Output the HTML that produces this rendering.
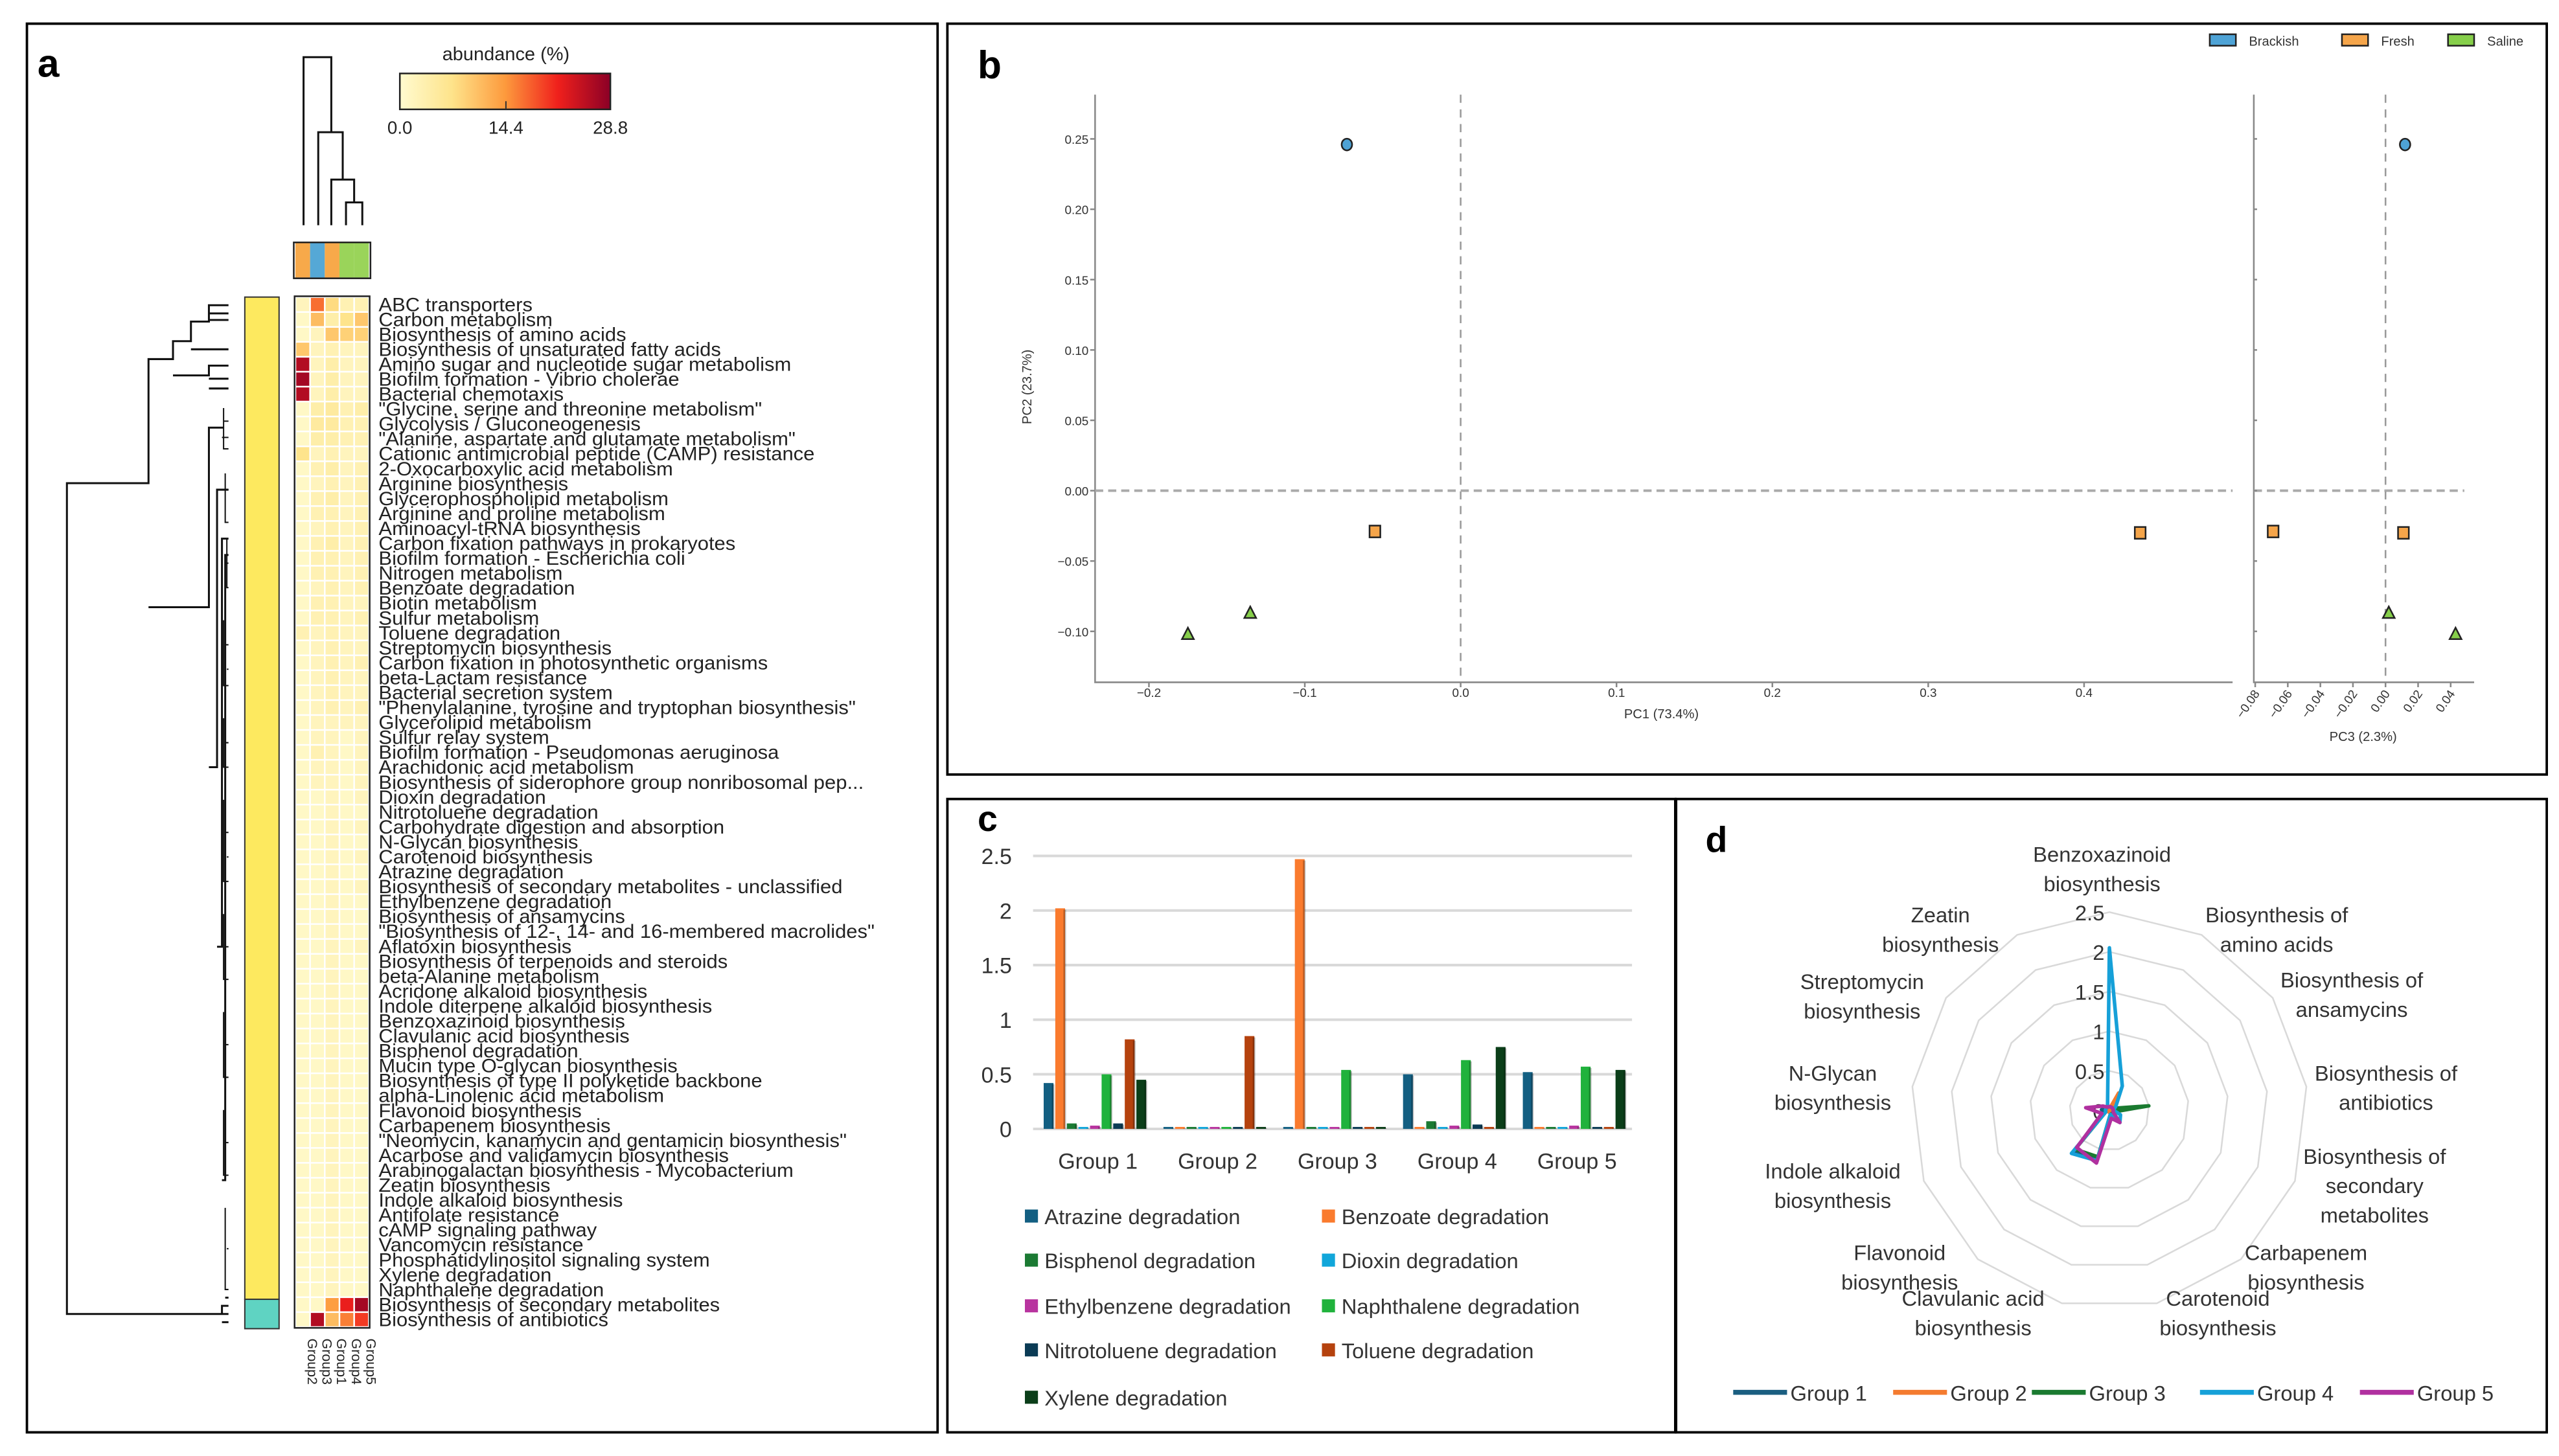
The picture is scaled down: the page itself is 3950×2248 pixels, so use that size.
<!DOCTYPE html>
<html><head><meta charset="utf-8"><style>
html,body{margin:0;padding:0;background:#fff;}
svg{display:block;}
text{font-family:"Liberation Sans",sans-serif;}
</style></head><body>
<svg id="fig" width="3950" height="2248" viewBox="0 0 1568 892" preserveAspectRatio="none" xmlns="http://www.w3.org/2000/svg">
<rect x="0" y="0" width="1568" height="892" fill="#fff"/>
<rect x="16.5" y="14.5" width="558" height="863" fill="none" stroke="#000" stroke-width="1.5"/>
<rect x="580.5" y="14.5" width="980" height="460" fill="none" stroke="#000" stroke-width="1.5"/>
<rect x="580.5" y="489.5" width="446" height="388" fill="none" stroke="#000" stroke-width="1.5"/>
<rect x="1027" y="489.5" width="533.5" height="388" fill="none" stroke="#000" stroke-width="1.5"/>
<text x="23" y="47" font-size="24" font-weight="bold">a</text>
<text x="599" y="48" font-size="24" font-weight="bold">b</text>
<text x="599" y="509" font-size="22" font-weight="bold">c</text>
<text x="1045" y="522" font-size="22" font-weight="bold">d</text>

<g id="pa">
<defs><linearGradient id="cb" x1="0" x2="1" y1="0" y2="0">
<stop offset="0" stop-color="#fffbd0"/><stop offset="0.25" stop-color="#fee38a"/><stop offset="0.5" stop-color="#fd9a3d"/><stop offset="0.75" stop-color="#f0201c"/><stop offset="1" stop-color="#8b0026"/></linearGradient></defs>
<text x="310" y="37" font-size="11.5" text-anchor="middle" fill="#222">abundance (%)</text>
<rect x="245" y="45" width="129" height="22" fill="url(#cb)" stroke="#222" stroke-width="1"/>
<line x1="310" y1="62" x2="310" y2="67" stroke="#333" stroke-width="0.8"/>
<text x="245" y="82" font-size="11" text-anchor="middle" fill="#222">0.0</text>
<text x="310" y="82" font-size="11" text-anchor="middle" fill="#222">14.4</text>
<text x="374" y="82" font-size="11" text-anchor="middle" fill="#222">28.8</text>
<path d="M186,138V35H203V81 M195,138V81H210V110 M203,138V110H217V124 M212,138V124H222V138" fill="none" stroke="#111" stroke-width="1.2"/>
<path d="M140,805H136V800H140M136,810H140M136,805H41V296H91V220H106V209H117V197H128V187H140M128,192H140M128,196H140M117,214H140M106,230H128V224H140M128,232H140M128,238H140M91,372H128V262H137M128,470H133V300H140M133,580H136V330H140M136,723H138V340H140M138,795H140" fill="none" stroke="#111" stroke-width="1.2"/>
<g stroke="#111" stroke-width="0.8" fill="none">
<path d="M137,250V275H140M137,258H140M136,268H140M138,290V320H140M137,300H140M139,330V360H140M138,345H140M137,380V420H140M138,395H140M139,410H140M137,440V470H140M138,455H140M137,490V540H140M138,510H140M139,525H140M137,560V600H140M138,580H140M137,620V660H140M138,640H140M137,680V720H140M138,700H140M138,740V790H140M139,765H140"/>
</g>
<rect x="150" y="182" width="21" height="614" fill="#fde95f" stroke="#333" stroke-width="0.8"/>
<rect x="150" y="796" width="21" height="18" fill="#5fd3c2" stroke="#333" stroke-width="0.8"/>
<g id="groupbar"></g>
<g id="heat"></g>
<g id="rowlabels" transform="translate(232,0) scale(1.06,1) translate(-232,0)"></g>
<g id="collabels"></g>
</g>

<g id="pb"></g>
<g id="pc"></g>
<g id="pd"></g>
</svg>
<script>
const heatRows = ["ABC transporters","Carbon metabolism","Biosynthesis of amino acids","Biosynthesis of unsaturated fatty acids","Amino sugar and nucleotide sugar metabolism","Biofilm formation - Vibrio cholerae","Bacterial chemotaxis","\"Glycine, serine and threonine metabolism\"","Glycolysis / Gluconeogenesis","\"Alanine, aspartate and glutamate metabolism\"","Cationic antimicrobial peptide (CAMP) resistance","2-Oxocarboxylic acid metabolism","Arginine biosynthesis","Glycerophospholipid metabolism","Arginine and proline metabolism","Aminoacyl-tRNA biosynthesis","Carbon fixation pathways in prokaryotes","Biofilm formation - Escherichia coli","Nitrogen metabolism","Benzoate degradation","Biotin metabolism","Sulfur metabolism","Toluene degradation","Streptomycin biosynthesis","Carbon fixation in photosynthetic organisms","beta-Lactam resistance","Bacterial secretion system","\"Phenylalanine, tyrosine and tryptophan biosynthesis\"","Glycerolipid metabolism","Sulfur relay system","Biofilm formation - Pseudomonas aeruginosa","Arachidonic acid metabolism","Biosynthesis of siderophore group nonribosomal pep...","Dioxin degradation","Nitrotoluene degradation","Carbohydrate digestion and absorption","N-Glycan biosynthesis","Carotenoid biosynthesis","Atrazine degradation","Biosynthesis of secondary metabolites - unclassified","Ethylbenzene degradation","Biosynthesis of ansamycins","\"Biosynthesis of 12-, 14- and 16-membered macrolides\"","Aflatoxin biosynthesis","Biosynthesis of terpenoids and steroids","beta-Alanine metabolism","Acridone alkaloid biosynthesis","Indole diterpene alkaloid biosynthesis","Benzoxazinoid biosynthesis","Clavulanic acid biosynthesis","Bisphenol degradation","Mucin type O-glycan biosynthesis","Biosynthesis of type II polyketide backbone","alpha-Linolenic acid metabolism","Flavonoid biosynthesis","Carbapenem biosynthesis","\"Neomycin, kanamycin and gentamicin biosynthesis\"","Acarbose and validamycin biosynthesis","Arabinogalactan biosynthesis - Mycobacterium","Zeatin biosynthesis","Indole alkaloid biosynthesis","Antifolate resistance","cAMP signaling pathway","Vancomycin resistance","Phosphatidylinositol signaling system","Xylene degradation","Naphthalene degradation","Biosynthesis of secondary metabolites","Biosynthesis of antibiotics"];
const heatCols = ["Group2","Group3","Group1","Group4","Group5"];
const groupColors = ["#f7a94a","#55a8d6","#f7a94a","#9ad45a","#9ad45a"];
const heatValues = [
[2,17,8,3,3],[1,11,4,7,10],[1,2,10,9,9],[10,2,3,2,2],[26,2,4,2,2],[27,2,4,2,2],[26,2,4,2,2],
[1,4,5,3,4],[1,5,5,3,3],[1,4,4,3,3],[7,2,3,2,2],[1,3,4,2,3],[1,2,3,2,3],[1,3,4,2,3],
[1,3,3,2,3],[1,2,3,2,3],[1,3,4,2,3],[1,3,3,2,3],[1,3,3,2,3],[1,2,3,2,3],[1,3,3,2,2],
[1,3,3,2,3],[3,2,3,2,2],[1,2,3,2,2],[1,2,3,2,3],[1,2,3,2,2],[1,2,3,2,2],[1,2,3,2,3],
[1,2,2,2,2],[1,2,2,1,2],[1,3,2,1,2],[1,2,2,1,2],[1,2,2,1,2],[1,1,2,1,2],[1,1,2,1,1],
[1,1,2,1,2],[1,1,2,1,1],[1,1,2,1,2],[1,1,2,1,1],[1,1,2,1,2],[1,1,2,1,1],[1,1,2,1,1],
[1,1,2,1,1],[1,1,2,1,2],[1,1,2,1,1],[1,1,2,1,1],[1,1,2,1,1],[1,1,2,1,1],[1,1,2,1,1],
[1,1,2,1,1],[1,1,2,1,1],[1,1,2,1,1],[1,1,2,1,1],[1,1,2,1,1],[1,1,2,1,1],[1,1,2,1,1],
[1,1,2,1,1],[1,1,2,1,1],[1,1,2,1,1],[1,1,2,1,1],[1,1,2,1,1],[1,1,2,1,1],[1,1,2,1,1],
[1,1,2,1,1],[1,1,2,1,1],[1,1,2,1,1],[1,1,2,1,1],[1,1,14,22,27],[1,26,11,16,20]];
const heatMax = 28.8;

const pcaGroups = ["Brackish","Fresh","Saline"];
const pcaColors = ["#4ea3d6","#f5a54a","#86cf4a"];
const pcaPC1 = [-0.073,-0.055,0.436,-0.175,-0.135];
const pcaPC2 = [0.246,-0.029,-0.030,-0.102,-0.087];
const pcaPC3 = [0.012,-0.069,0.011,0.043,0.002];
const pcaGroupOf = [0,1,1,2,2];
const pc1Ticks = [-0.2,-0.1,0.0,0.1,0.2,0.3,0.4];
const pc2Ticks = [0.25,0.20,0.15,0.10,0.05,0.00,-0.05,-0.10];
const pc3Ticks = [-0.08,-0.06,-0.04,-0.02,0.00,0.02,0.04];

const barGroups = ["Group 1","Group 2","Group 3","Group 4","Group 5"];
const barSeries = ["Atrazine degradation","Benzoate degradation","Bisphenol degradation","Dioxin degradation","Ethylbenzene degradation","Naphthalene degradation","Nitrotoluene degradation","Toluene degradation","Xylene degradation"];
const barColors = ["#135f82","#fa7b2e","#1b7a33","#11a6da","#b8349f","#20b23c","#0b3b55","#b5420e","#0b3e19"];
const barValues = [
[0.42,0.00,0.01,0.50,0.52],
[2.02,0.00,2.47,0.01,0.01],
[0.05,0.00,0.01,0.07,0.01],
[0.01,0.00,0.01,0.01,0.01],
[0.03,0.00,0.01,0.03,0.03],
[0.50,0.00,0.54,0.63,0.57],
[0.05,0.00,0.01,0.04,0.01],
[0.82,0.85,0.01,0.01,0.01],
[0.45,0.01,0.01,0.75,0.54]];
const barTicks = [0,0.5,1,1.5,2,2.5];
const barTickLabels = ["0","0.5","1","1.5","2","2.5"];

const radarAxes = ["Benzoxazinoid biosynthesis","Biosynthesis of amino acids","Biosynthesis of ansamycins","Biosynthesis of antibiotics","Biosynthesis of secondary metabolites","Carbapenem biosynthesis","Carotenoid biosynthesis","Clavulanic acid biosynthesis","Flavonoid biosynthesis","Indole alkaloid biosynthesis","N-Glycan biosynthesis","Streptomycin biosynthesis","Zeatin biosynthesis"];
const radarGroups = ["Group 1","Group 2","Group 3","Group 4","Group 5"];
const radarColors = ["#1a5e80","#f47b2f","#1a7a30","#16a0d8","#b0309f"];
const radarG1 = [0.05,0.05,0.05,0.05,0.05,0.05,0.05,0.62,0.68,0.05,0.1,0.05,0.05];
const radarG2 = [0.02,0.25,0.02,0.02,0.02,0.02,0.02,0.02,0.02,0.02,0.02,0.02,0.02];
const radarG3 = [0.05,0.05,0.05,0.5,0.05,0.05,0.05,0.6,0.65,0.05,0.05,0.05,0.05];
const radarG4 = [2.05,0.35,0.1,0.05,0.15,0.2,0.05,0.65,0.72,0.05,0.05,0.05,0.05];
const radarG5 = [0.05,0.05,0.05,0.05,0.05,0.2,0.1,0.68,0.62,0.1,0.3,0.1,0.05];
const radarTicks = [0,0.5,1,1.5,2,2.5];
const radarTickLabels = ["0","0.5","1","1.5","2","2.5"];

const NS="http://www.w3.org/2000/svg";
function mk(tag,attrs,parent){const e=document.createElementNS(NS,tag);for(const k in attrs)e.setAttribute(k,attrs[k]);parent.appendChild(e);return e;}

(function(){
  const heat=document.getElementById('heat'), rl=document.getElementById('rowlabels'), gb=document.getElementById('groupbar'), cl=document.getElementById('collabels');
  const x0=181, cw=9, y0=182, y1=813, rh=(y1-y0)/heatRows.length;
  const stops=[[0,[255,251,208]],[0.25,[254,227,138]],[0.5,[253,154,61]],[0.75,[240,32,28]],[1,[139,0,38]]];
  function col(v){let t=Math.max(0,Math.min(1,v/heatMax));for(let i=1;i<stops.length;i++){if(t<=stops[i][0]){const a=stops[i-1],b=stops[i];const f=(t-a[0])/(b[0]-a[0]);const c=a[1].map((q,j)=>Math.round(q+(b[1][j]-q)*f));return `rgb(${c[0]},${c[1]},${c[2]})`;}}return 'rgb(139,0,38)';}
  mk('rect',{x:x0-0.5,y:y0-0.5,width:cw*5+1,height:y1-y0+1,fill:'#fff',stroke:'#222','stroke-width':1},heat);
  heatValues.forEach((row,i)=>{
    row.forEach((v,j)=>{
      const r=mk('rect',{x:x0+j*cw+0.5,y:y0+i*rh+0.5,width:cw-1,height:rh-1,fill:col(v)},heat);
      
      
    });
    const t=mk('text',{x:232,y:y0+i*rh+rh/2+4,'font-size':11.6,fill:'#222'},rl);
    t.textContent=heatRows[i];
    
    
  });
  heatCols.forEach((c,j)=>{
    const r=mk('rect',{x:x0+j*cw,y:149,width:cw,height:21,fill:groupColors[j]},gb);
    
    
    const t=mk('text',{x:0,y:0,'font-size':8.5,fill:'#222',transform:`translate(${x0+j*cw+7.5},820) rotate(90)`},cl);
    t.textContent=c;
    
    
  });
  mk('rect',{x:x0-1,y:148.5,width:cw*5+2,height:22,fill:'none',stroke:'#222','stroke-width':1},gb);
})();

(function(){
  const g=document.getElementById('pb');
  const X=v=>895+v*955, Y=v=>300.6-v*862, X3=v=>1461.7+v*998;
  const L=671,R=1368,T=58,B=418, L3=1381,R3=1516;
  mk('path',{d:`M${L},${T}V${B}H${R}`,fill:'none',stroke:'#888','stroke-width':1},g);
  mk('path',{d:`M${L3},${T}V${B}H${R3}`,fill:'none',stroke:'#888','stroke-width':1},g);
  mk('line',{x1:X(0),y1:T,x2:X(0),y2:B,stroke:'#999','stroke-width':1,'stroke-dasharray':'5,4'},g);
  mk('line',{x1:L,y1:Y(0),x2:R,y2:Y(0),stroke:'#aaa','stroke-width':1.5,'stroke-dasharray':'5,3'},g);
  mk('line',{x1:L3,y1:Y(0),x2:R3-6,y2:Y(0),stroke:'#aaa','stroke-width':1.5,'stroke-dasharray':'5,3'},g);
  mk('line',{x1:X3(0),y1:T,x2:X3(0),y2:B,stroke:'#999','stroke-width':1,'stroke-dasharray':'5,4'},g);
  pc1Ticks.forEach(v=>{mk('line',{x1:X(v),y1:B,x2:X(v),y2:B+3,stroke:'#888'},g);
    const t=mk('text',{x:X(v),y:B+9,'font-size':7.5,'text-anchor':'middle',fill:'#333'},g);t.textContent=v.toFixed(1).replace('-','\u2212');
    
    });
  pc2Ticks.forEach(v=>{mk('line',{x1:L-3,y1:Y(v),x2:L,y2:Y(v),stroke:'#888'},g);mk('line',{x1:L3,y1:Y(v),x2:L3+2,y2:Y(v),stroke:'#888'},g);
    const t=mk('text',{x:L-4,y:Y(v)+3,'font-size':7.5,'text-anchor':'end',fill:'#333'},g);t.textContent=v.toFixed(2).replace('-','\u2212');
    
    });
  pc3Ticks.forEach(v=>{mk('line',{x1:X3(v),y1:B,x2:X3(v),y2:B+3,stroke:'#888'},g);
    const t=mk('text',{x:0,y:0,'font-size':7.5,'text-anchor':'end',fill:'#333',transform:`translate(${X3(v)+3},${B+7}) rotate(-55)`},g);t.textContent=v.toFixed(2).replace('-','\u2212');
    
    });
  let t=mk('text',{x:1018,y:440,'font-size':8,'text-anchor':'middle',fill:'#333'},g);t.textContent='PC1 (73.4%)';
  
  
  t=mk('text',{x:1448,y:454,'font-size':8,'text-anchor':'middle',fill:'#333'},g);t.textContent='PC3 (2.3%)';
  
  
  t=mk('text',{x:0,y:0,'font-size':8,'text-anchor':'middle',fill:'#333',transform:'translate(632,237) rotate(-90)'},g);t.textContent='PC2 (23.7%)';
  
  
  function marker(x,y,gi){
    const c=pcaColors[gi];let m;
    if(gi===0)m=mk('ellipse',{cx:x,cy:y,rx:3.2,ry:3.6,fill:c,stroke:'#222','stroke-width':1},g);
    else if(gi===1)m=mk('rect',{x:x-3.3,y:y-3.6,width:6.6,height:7.2,fill:c,stroke:'#222','stroke-width':1},g);
    else m=mk('path',{d:`M${x},${y-4}L${x+3.6},${y+3}L${x-3.6},${y+3}Z`,fill:c,stroke:'#222','stroke-width':1},g);
    return m;}
  pcaPC1.forEach((v,i)=>{
    const m=marker(X(v),Y(pcaPC2[i]),pcaGroupOf[i]);
    
    
    const m2=marker(X3(pcaPC3[i]),Y(pcaPC2[i]),pcaGroupOf[i]);
    
    
  });
  const lx=[1354,1435,1500];
  pcaGroups.forEach((n,i)=>{
    const r=mk('rect',{x:lx[i],y:21,width:16,height:7,fill:pcaColors[i],stroke:'#222','stroke-width':1},g);
    
    
    const tt=mk('text',{x:lx[i]+24,y:28,'font-size':8,fill:'#333'},g);tt.textContent=n;
    
    
  });
})();

(function(){
  const g=document.getElementById('pc');
  const L=633,R=1000,Y=v=>691.6-v*66.9, gw=(R-L)/barGroups.length;
  barTicks.forEach((v,i)=>{
    mk('line',{x1:L,y1:Y(v),x2:R,y2:Y(v),stroke:'#d9d9d9','stroke-width':1.6},g);
    const t=mk('text',{x:620,y:Y(v)+5,'font-size':13.5,'text-anchor':'end',fill:'#333'},g);t.textContent=barTickLabels[i];
    
    
  });
  barGroups.forEach((gn,gi)=>{
    const gx=L+gi*gw+6.5;
    barSeries.forEach((s,si)=>{
      const v=barValues[si][gi], x=gx+si*7.1, y=Y(v), h=Math.max(1.2,Y(0)-y);
      const r=mk('rect',{x:x,y:Y(0)-h,width:6,height:h,fill:barColors[si]},g);
      
      
      mk('rect',{x:x+5,y:Y(0)-h+0.8,width:1.6,height:h-0.8,fill:'#000',opacity:0.25},g);
    });
    const t=mk('text',{x:L+gi*gw+gw/2+3,y:716,'font-size':13.5,'text-anchor':'middle',fill:'#333'},g);t.textContent=gn;
    
    
  });
  const lxs=[628,810], lys=[746,773,801,828,857];
  barSeries.forEach((s,i)=>{
    const x=lxs[i%2], y=lys[Math.floor(i/2)];
    const r=mk('rect',{x:x,y:y-5,width:8,height:8,fill:barColors[i]},g);
    
    
    const t=mk('text',{x:x+12,y:y+4,'font-size':13,fill:'#333'},g);t.textContent=s;
    
    
  });
})();

(function(){
  const g=document.getElementById('pd');
  const cx=1292.5, cy=680.4, R=121.6, max=2.5, n=radarAxes.length;
  const P=(i,v)=>{const a=i*2*Math.PI/n;const r=v/max*R;return [cx+r*Math.sin(a),cy-r*Math.cos(a)];};
  radarTicks.forEach((v,k)=>{
    if(v>0){const pts=radarAxes.map((_,i)=>P(i,v).join(',')).join(' ');
      mk('polygon',{points:pts,fill:'none',stroke:'#d9d9d9','stroke-width':1},g);}
    const t=mk('text',{x:cx-3,y:cy-v/max*R+5,'font-size':13,'text-anchor':'end',fill:'#333'},g);t.textContent=radarTickLabels[k];
    
    
  });
  const series=[radarG1,radarG2,radarG3,radarG4,radarG5];
  series.forEach((vals,si)=>{
    const pts=vals.map((v,i)=>P(i,v).join(',')).join(' ');
    const p=mk('polygon',{points:pts,fill:'none',stroke:radarColors[si],'stroke-width':2.2,'stroke-linejoin':'round'},g);
    
    
  });
  const lab=[[1288,[524,542],["Benzoxazinoid","biosynthesis"]],[1395,[561,579],["Biosynthesis of","amino acids"]],[1441,[601,619],["Biosynthesis of","ansamycins"]],[1462,[658,676],["Biosynthesis of","antibiotics"]],[1455,[709,727,745],["Biosynthesis of","secondary","metabolites"]],[1413,[768,786],["Carbapenem","biosynthesis"]],[1359,[796,814],["Carotenoid","biosynthesis"]],[1209,[796,814],["Clavulanic acid","biosynthesis"]],[1164,[768,786],["Flavonoid","biosynthesis"]],[1123,[718,736],["Indole alkaloid","biosynthesis"]],[1123,[658,676],["N-Glycan","biosynthesis"]],[1141,[602,620],["Streptomycin","biosynthesis"]],[1189,[561,579],["Zeatin","biosynthesis"]]];
  lab.forEach(l=>{
    const t=mk('text',{'font-size':13,'text-anchor':'middle',fill:'#333'},g);
    
    
    l[2].forEach((s,k)=>{const ts=mk('tspan',{x:l[0],y:l[1][k]+4},t);ts.textContent=s;});
  });
  const lx=[1062,1160,1245,1348,1446];
  radarGroups.forEach((n2,i)=>{
    const ln=mk('line',{x1:lx[i],y1:853,x2:lx[i]+33,y2:853,stroke:radarColors[i],'stroke-width':3},g);
    
    
    const t=mk('text',{x:lx[i]+35,y:858,'font-size':13,fill:'#333'},g);t.textContent=n2;
    
    
  });
})();
</script>
</body></html>
